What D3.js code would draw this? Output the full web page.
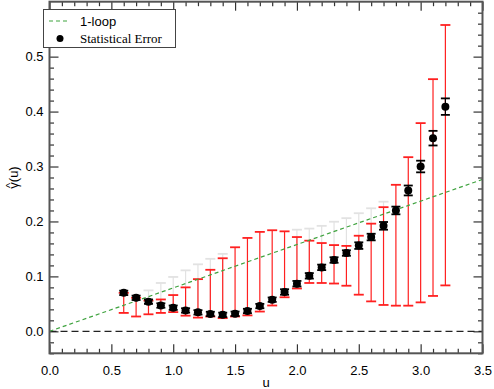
<!DOCTYPE html>
<html><head><meta charset="utf-8">
<script src="https://cdn.jsdelivr.net/npm/d3@7"></script>
<style>body{margin:0;background:#fff}svg{display:block}</style>
</head><body>
<svg id="c" width="494" height="389"></svg>
<script>
const u = [0.6,0.7,0.8,0.9,1.0,1.1,1.2,1.3,1.4,1.5,1.6,1.7,1.8,1.9,2.0,2.1,2.2,2.3,2.4,2.5,2.6,2.7,2.8,2.9,3.0,3.1,3.2];
const gamma = [0.070,0.061,0.054,0.047,0.043,0.038,0.0345,0.0316,0.030,0.032,0.037,0.046,0.0576,0.0716,0.0867,0.101,0.1164,0.1298,0.1425,0.156,0.1716,0.192,0.220,0.2564,0.300,0.3516,0.409];
const statErr = [0.004,0.004,0.004,0.004,0.004,0.004,0.004,0.004,0.004,0.004,0.004,0.004,0.004,0.005,0.005,0.005,0.005,0.005,0.005,0.006,0.006,0.007,0.007,0.009,0.0106,0.0133,0.015];
const redLo = [0.0335,0.027,0.031,0.0335,0.035,0.0285,0.025,0.027,0.024,0.027,0.029,0.036,0.047,0.062,0.078,0.088,0.088,0.087,0.083,0.0667,0.0545,0.048,0.0467,0.0467,0.0527,0.0644,0.0836];
const redHi = [0.070,0.061,0.056,0.058,0.066,0.080,0.095,0.112,0.133,0.153,0.170,0.181,0.184,0.182,0.1716,0.165,0.1607,0.157,0.1555,0.174,0.196,0.226,0.2667,0.317,0.379,0.459,0.5576];
const greyHi = [null,null,0.0745,0.088,0.099,0.111,0.122,0.132,0.141,null,null,null,null,null,0.185,0.187,0.192,0.1995,0.206,0.215,0.224,0.236,null,null,null,null,null];
const oneLoopU = [0, 3.5];
const oneLoop = [0, 0.2765];
const xMajor = [0,0.5,1.0,1.5,2.0,2.5,3.0,3.5];
const yMajor = [0,0.1,0.2,0.3,0.4,0.5];
const legendLabels = ["1-loop","Statistical Error"];

const svg = d3.select("#c");
const L=49.5,R=482.5,T=1.7,B=353.3;
const x = d3.scaleLinear().domain([0,3.5]).range([L,R]);
const y = d3.scaleLinear().domain([-0.04,0.6]).range([B,T]);
const data = u.map((v,i)=>({u:v,g:gamma[i],e:statErr[i],lo:redLo[i],hi:redHi[i],gh:greyHi[i]}));

const xMinor = d3.range(0,36).map(i=>i/10).filter(v=>Math.abs(v*2-Math.round(v*2))>1e-6);
const yMinor = d3.range(-2,31).map(i=>i/50).filter(v=>Math.abs(v*10-Math.round(v*10))>1e-6);

function styleAxis(g){g.select(".domain").remove();g.selectAll("line").attr("stroke","#333").attr("stroke-width",1.2);
  g.selectAll("text").attr("font-family","Liberation Sans, Arial, sans-serif").attr("font-size",13).attr("fill","#000");}
const fmt = d3.format(".1f");
svg.append("g").attr("transform",`translate(0,${B})`).call(d3.axisBottom(x).tickValues(xMajor).tickFormat(fmt).tickSizeInner(-9).tickSizeOuter(0).tickPadding(12)).call(styleAxis);
svg.append("g").attr("transform",`translate(0,${B})`).call(d3.axisBottom(x).tickValues(xMinor).tickFormat("").tickSizeInner(-4.5).tickSizeOuter(0)).call(styleAxis);
svg.append("g").attr("transform",`translate(0,${T})`).call(d3.axisTop(x).tickValues(xMajor).tickFormat("").tickSizeInner(-9).tickSizeOuter(0)).call(styleAxis);
svg.append("g").attr("transform",`translate(0,${T})`).call(d3.axisTop(x).tickValues(xMinor).tickFormat("").tickSizeInner(-4.5).tickSizeOuter(0)).call(styleAxis);
svg.append("g").attr("transform",`translate(${L},0)`).call(d3.axisLeft(y).tickValues(yMajor).tickFormat(fmt).tickSizeInner(-9).tickSizeOuter(0).tickPadding(6)).call(styleAxis);
svg.append("g").attr("transform",`translate(${L},0)`).call(d3.axisLeft(y).tickValues(yMinor).tickFormat("").tickSizeInner(-4.5).tickSizeOuter(0)).call(styleAxis);
svg.append("g").attr("transform",`translate(${R},0)`).call(d3.axisRight(y).tickValues(yMajor).tickFormat("").tickSizeInner(-9).tickSizeOuter(0)).call(styleAxis);
svg.append("g").attr("transform",`translate(${R},0)`).call(d3.axisRight(y).tickValues(yMinor).tickFormat("").tickSizeInner(-4.5).tickSizeOuter(0)).call(styleAxis);

// zero line
svg.append("line").attr("x1",x(0)).attr("x2",x(3.5)).attr("y1",y(0)).attr("y2",y(0))
  .attr("stroke","#222").attr("stroke-width",1.2).attr("stroke-dasharray","7,4");

function errBars(sel,lo,hi,color,w,cw,capLo){
  const g=svg.append("g");
  sel.forEach(d=>{
    const a=lo(d),b=hi(d); if(a==null||b==null) return;
    g.append("line").attr("x1",x(d.u)).attr("x2",x(d.u)).attr("y1",y(a)).attr("y2",y(b)).attr("stroke",color).attr("stroke-width",w);
    g.append("line").attr("x1",x(d.u)-cw).attr("x2",x(d.u)+cw).attr("y1",y(b)).attr("y2",y(b)).attr("stroke",color).attr("stroke-width",w+0.6);
    if(capLo) g.append("line").attr("x1",x(d.u)-cw).attr("x2",x(d.u)+cw).attr("y1",y(a)).attr("y2",y(a)).attr("stroke",color).attr("stroke-width",w+0.6);
  });
}
errBars(data.filter(d=>d.gh!=null),d=>d.g,d=>d.gh,"#e2e2e2",1.2,5,false);
errBars(data,d=>d.lo,d=>d.hi,"#ff2020",1.2,5,true);

// 1-loop line
svg.append("line").attr("x1",x(oneLoopU[0])).attr("x2",x(oneLoopU[1])).attr("y1",y(oneLoop[0])).attr("y2",y(oneLoop[1]))
  .attr("stroke","#3fa33f").attr("stroke-width",1.2).attr("stroke-dasharray","4,3");

errBars(data,d=>d.g-d.e,d=>d.g+d.e,"#000",1.2,4.5,true);
svg.append("g").selectAll("circle").data(data).join("circle")
  .attr("cx",d=>x(d.u)).attr("cy",d=>y(d.g)).attr("r",4).attr("fill","#000");

// frame
svg.append("rect").attr("x",L).attr("y",T).attr("width",R-L).attr("height",B-T).attr("fill","none").attr("stroke","#555").attr("stroke-width",2);

// legend
const lg=svg.append("g");
lg.append("rect").attr("x",43.5).attr("y",9.5).attr("width",132).attr("height",38).attr("fill","#fff").attr("stroke","#444").attr("stroke-width",1);
lg.append("line").attr("x1",49).attr("x2",70).attr("y1",21).attr("y2",21).attr("stroke","#3fa33f").attr("stroke-width",1.2).attr("stroke-dasharray","4,3");
lg.append("text").attr("x",80).attr("y",26).attr("font-family","Liberation Sans, Arial, sans-serif").attr("font-size",13).text(legendLabels[0]);
lg.append("circle").attr("cx",60).attr("cy",38.5).attr("r",3.5).attr("fill","#000");
lg.append("text").attr("x",80).attr("y",43).attr("font-family","Liberation Serif, Times New Roman, serif").attr("font-size",13).text(legendLabels[1]);

// axis labels
svg.append("text").attr("x",(L+R)/2).attr("y",387).attr("text-anchor","middle").attr("font-family","Liberation Sans, Arial, sans-serif").attr("font-size",13).text("u");
const yl = svg.append("g").attr("transform",`translate(18,${(T+B)/2}) rotate(-90)`);
const ff = "Liberation Sans, Arial, sans-serif";
const full = yl.append("text").attr("text-anchor","middle").attr("font-family",ff).attr("font-size",13).text("\u03B3(u)");
const W = full.node().getComputedTextLength();
const tmp = yl.append("text").attr("font-family",ff).attr("font-size",13).text("\u03B3");
const wg = tmp.node().getComputedTextLength(); tmp.remove();
yl.append("text").attr("x",-W/2+wg/2).attr("y",-4.5).attr("text-anchor","middle").attr("font-family",ff).attr("font-size",11).text("^");
</script>
</body></html>
